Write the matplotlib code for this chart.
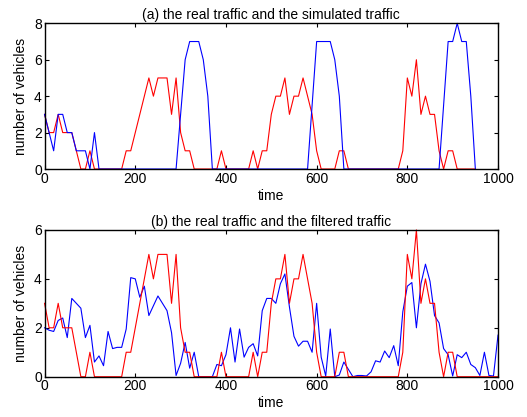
import numpy as np
import matplotlib
matplotlib.use("Agg")
import matplotlib.pyplot as plt

plt.rcParams['font.family'] = ['Liberation Sans', 'DejaVu Sans']
plt.rcParams['font.size'] = 10

# real traffic, sampled every 10 time units
real = [3, 2, 2, 3, 2, 2, 2, 1, 0, 0,
        1, 0, 0, 0, 0, 0, 0, 0, 1, 1,
        2, 3, 4, 5, 4, 5, 5, 5, 3, 5,
        2, 1, 1, 0, 0, 0, 0, 0, 0, 1,
        0, 0, 0, 0, 0, 0, 1, 0, 1, 1,
        3, 4, 4, 5, 3, 4, 4, 5, 4, 3,
        1, 0, 0, 0, 0, 1, 1, 0, 0, 0,
        0, 0, 0, 0, 0, 0, 0, 0, 0, 1,
        5, 4, 6, 3, 4, 3, 3, 1, 0, 1,
        1, 0, 0, 0, 0, 0, 0, 0, 0, 0, 0]

# simulated traffic (t = 0..950)
simulated = [3, 2, 1, 3, 3, 2, 2, 1, 1, 1,
             0, 2, 0, 0, 0, 0, 0, 0, 0, 0,
             0, 0, 0, 0, 0, 0, 0, 0, 0, 0,
             3, 6, 7, 7, 7, 6, 4, 0, 0, 0,
             0, 0, 0, 0, 0, 0, 0, 0, 0, 0,
             0, 0, 0, 0, 0, 0, 0, 0, 0, 3.5,
             7, 7, 7, 7, 6, 4, 0, 0, 0, 0,
             0, 0, 0, 0, 0, 0, 0, 0, 0, 0,
             0, 0, 0, 0, 0, 0, 0, 0, 3.5, 7,
             7, 8, 7, 7, 4, 0]

# filtered traffic (t = 0..1000)
filtered = [2.0, 1.9, 1.85, 2.3, 2.4, 1.6, 3.2, 3.0, 2.8, 1.6,
            2.1, 0.6, 0.85, 0.45, 1.85, 1.15, 1.2, 1.2, 1.95, 4.05,
            4.0, 3.25, 3.7, 2.5, 2.9, 3.3, 3.0, 2.7, 1.8, 0.05,
            0.55, 1.4, 0.35, 1.0, 0, 0, 0, 0, 0.5, 0.45,
            0.9, 2.0, 0.6, 1.95, 0.8, 1.2, 1.35, 0.85, 2.7, 3.2,
            3.2, 3.0, 3.8, 4.2, 2.85, 1.65, 1.25, 1.45, 1.45, 1.0,
            3.0, 0.8, 0.03, 1.95, 0.0, 0.07, 0.6, 0.3, 0.0, 0.05,
            0.05, 0.03, 0.2, 0.65, 0.6, 1.05, 0.78, 1.27, 0.45, 2.65,
            3.7, 3.85, 2.0, 3.8, 4.6, 3.9, 2.5, 2.2, 1.15, 0.9,
            0.03, 0.9, 0.78, 1.0, 0.5, 0.37, 0.05, 1.0, 0.05, 0.03, 1.7]

t_full = np.arange(len(real)) * 10
t_sim = np.arange(len(simulated)) * 10

fig = plt.figure(figsize=(5.27, 4.17), dpi=100)
ax1 = fig.add_axes([0.0846, 0.5947, 0.8604, 0.3494])
ax2 = fig.add_axes([0.0846, 0.0966, 0.8604, 0.3520])

ax1.plot(t_sim, real[:len(simulated)], color='red', lw=0.8, clip_on=False)
ax1.plot(t_sim, simulated, color='blue', lw=0.8, clip_on=False)
ax1.set_ylim(0, 8)
ax1.set_yticks([0, 2, 4, 6, 8])
ax1.set_title('(a) the real traffic and the simulated traffic', fontsize=10, pad=3)

ax2.plot(t_full, filtered, color='blue', lw=0.8, clip_on=False)
ax2.plot(t_full, real, color='red', lw=0.8, clip_on=False)
ax2.set_ylim(0, 6)
ax2.set_yticks([0, 2, 4, 6])
ax2.set_title('(b) the real traffic and the filtered traffic', fontsize=10, pad=3)

for ax in (ax1, ax2):
    ax.set_xlim(0, 1000)
    ax.set_xticks([0, 200, 400, 600, 800, 1000])
    ax.set_xlabel('time', labelpad=2)
    ax.set_ylabel('number of vehicles', labelpad=4)
    ax.tick_params(direction='in', top=True, right=True, length=3, width=0.8, labelsize=10, pad=2)
    for s in ax.spines.values():
        s.set_linewidth(1.0)

fig.savefig('out.png', dpi=100)
